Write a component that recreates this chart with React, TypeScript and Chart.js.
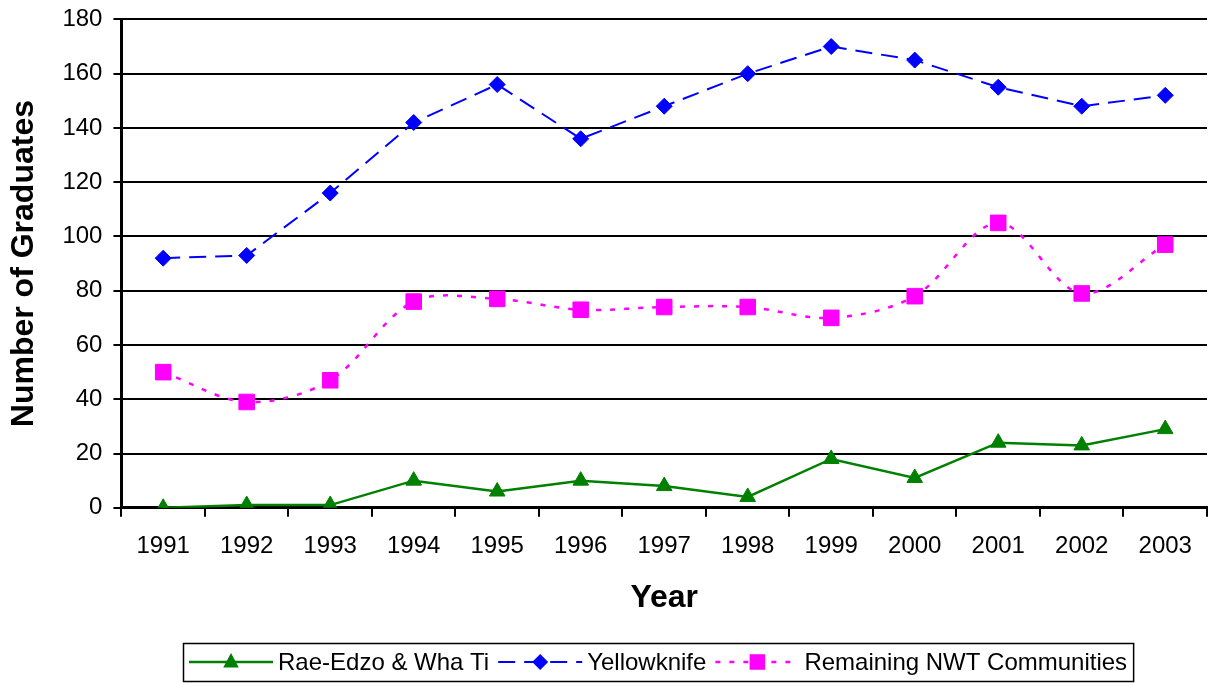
import React, { useEffect, useRef } from "react";
import { Chart, registerables } from "chart.js";

Chart.register(...registerables);

const years = ["1991", "1992", "1993", "1994", "1995", "1996", "1997", "1998", "1999", "2000", "2001", "2002", "2003"];
const raeEdzo = [0, 1, 1, 10, 6, 10, 8, 4, 18, 11, 24, 23, 29];
const yellowknife = [92, 93, 116, 142, 156, 136, 148, 160, 170, 165, 155, 148, 152];
const remaining = [50, 39, 47, 76, 77, 73, 74, 74, 70, 78, 105, 79, 97];

const FONT = "'Liberation Sans', Arial, sans-serif";

function drawMarker(ctx: CanvasRenderingContext2D, style: string, r: number, x: number, y: number) {
  ctx.beginPath();
  if (style === "triangle") {
    ctx.moveTo(x, y - r);
    ctx.lineTo(x + r * 0.866, y + r / 2 + 1);
    ctx.lineTo(x - r * 0.866, y + r / 2 + 1);
    ctx.closePath();
  } else if (style === "rectRot") {
    ctx.moveTo(x, y - r);
    ctx.lineTo(x + r, y);
    ctx.lineTo(x, y + r);
    ctx.lineTo(x - r, y);
    ctx.closePath();
  } else {
    const s = r * Math.SQRT1_2;
    ctx.rect(x - s, y - s, 2 * s, 2 * s);
  }
  ctx.fill();
}

const legendPlugin = {
  id: "boxLegend",
  afterDraw(chart: any) {
    const ctx = chart.ctx;
    const ds = chart.data.datasets;
    ctx.save();
    ctx.font = `24px ${FONT}`;
    const sampleW = 84;
    const gapAfterSample = 5;
    const gapBetween = 9;
    const padX = 6;
    let total = padX * 2;
    const widths = ds.map((d: any) => ctx.measureText(d.label).width);
    widths.forEach((w: number, i: number) => {
      total += sampleW + gapAfterSample + w + (i < ds.length - 1 ? gapBetween : 0);
    });
    const left = 183;
    const top = 649;
    const h = 38;
    ctx.strokeStyle = "#000";
    ctx.lineWidth = 1.5;
    ctx.strokeRect(left + 0.5, top + 0.5, total, h);
    let x = left + padX;
    const y = top + h / 2;
    ds.forEach((d: any, i: number) => {
      ctx.save();
      ctx.strokeStyle = d.borderColor;
      ctx.lineWidth = d.borderWidth;
      ctx.setLineDash(d.borderDash || []);
      ctx.beginPath();
      ctx.moveTo(x, y);
      ctx.lineTo(x + sampleW, y);
      ctx.stroke();
      ctx.setLineDash([]);
      ctx.fillStyle = d.pointBackgroundColor;
      drawMarker(ctx, d.pointStyle, d.pointRadius, x + sampleW / 2, y);
      ctx.restore();
      x += sampleW + gapAfterSample;
      ctx.fillStyle = "#000";
      ctx.textBaseline = "middle";
      ctx.textAlign = "left";
      ctx.fillText(d.label, x, y + 1);
      x += widths[i] + gapBetween;
    });
    ctx.restore();
  },
};

export default function App() {
  const ref = useRef<HTMLCanvasElement>(null);
  useEffect(() => {
    if (!ref.current) return;
    const chart = new Chart(ref.current, {
      type: "line",
      data: {
        labels: years,
        datasets: [
          {
            label: "Rae-Edzo & Wha Ti",
            data: raeEdzo,
            borderColor: "#008000",
            backgroundColor: "#008000",
            pointBackgroundColor: "#008000",
            pointBorderColor: "#008000",
            borderWidth: 2.5,
            pointStyle: "triangle",
            pointRadius: 9,
            pointBorderWidth: 1,
            tension: 0,
          } as any,
          {
            label: "Yellowknife",
            data: yellowknife,
            borderColor: "#0000FF",
            backgroundColor: "#0000FF",
            pointBackgroundColor: "#0000FF",
            pointBorderColor: "#0000FF",
            borderWidth: 2,
            borderDash: [17, 9],
            pointStyle: "rectRot",
            pointRadius: 8,
            pointBorderWidth: 1,
            tension: 0,
          } as any,
          {
            label: "Remaining NWT Communities",
            data: remaining,
            borderColor: "#FF00FF",
            backgroundColor: "#FF00FF",
            pointBackgroundColor: "#FF00FF",
            pointBorderColor: "#FF00FF",
            borderWidth: 2.5,
            borderDash: [5, 9],
            pointStyle: "rect",
            pointRadius: 11,
            pointBorderWidth: 1,
            tension: 0.33,
          } as any,
        ],
      },
      options: {
        animation: false,
        responsive: true,
        maintainAspectRatio: false,
        layout: { padding: { top: 0, right: 0, left: 0, bottom: 66 } },
        plugins: {
          legend: { display: false },
          tooltip: { enabled: false },
        },
        scales: {
          x: {
            offset: true,
            grid: {
              offset: true,
              drawOnChartArea: false,
              drawTicks: true,
              tickLength: 9,
              color: "#000",
              lineWidth: 2,
            },
            border: { color: "#000", width: 3 },
            ticks: {
              color: "#000",
              font: { family: FONT, size: 24 },
              padding: 15,
              maxRotation: 0,
            },
            title: {
              display: true,
              text: "Year",
              color: "#000",
              font: { family: FONT, size: 32, weight: "bold" },
              padding: { top: 3, bottom: 0 },
            },
          },
          y: {
            min: 0,
            max: 180,
            ticks: {
              stepSize: 20,
              color: "#000",
              font: { family: FONT, size: 24 },
              padding: 11,
            },
            grid: {
              color: "#000",
              lineWidth: 2,
              tickLength: 8,
            },
            border: { color: "#000", width: 3 },
            title: {
              display: true,
              text: "Number of Graduates",
              color: "#000",
              font: { family: FONT, size: 32, weight: "bold" },
              padding: { top: 5, bottom: 8 },
            },
          },
        },
      },
      plugins: [legendPlugin],
    });
    return () => chart.destroy();
  }, []);
  return (
    <div style={{ position: "fixed", left: 0, top: 0, width: 1209, height: 683, overflow: "hidden", background: "#fff" }}>
      <div style={{ position: "absolute", left: 0, top: -6, width: 1219, height: 689 }}>
        <canvas ref={ref} />
      </div>
    </div>
  );
}
